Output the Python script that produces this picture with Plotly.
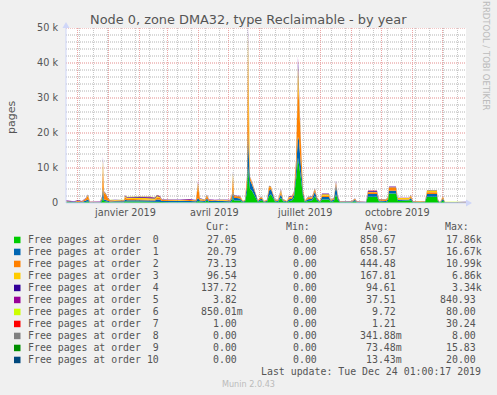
import plotly.graph_objects as go

# ---------------- data ----------------
dates = [
    "2018-11-19", "2018-11-23", "2018-11-27", "2018-12-01", "2018-12-05", "2018-12-09", "2018-12-11", "2018-12-13", "2018-12-18", "2018-12-23",
    "2018-12-25", "2018-12-26", "2018-12-27", "2018-12-29", "2018-12-31", "2019-01-02", "2019-01-07", "2019-01-12", "2019-01-16", "2019-01-17",
    "2019-01-19", "2019-02-01", "2019-02-11", "2019-02-16", "2019-02-18", "2019-02-21", "2019-02-23", "2019-03-03", "2019-03-13", "2019-03-23",
    "2019-03-29", "2019-03-31", "2019-04-02", "2019-04-07", "2019-04-09", "2019-04-11", "2019-04-17", "2019-04-24", "2019-05-02", "2019-05-04",
    "2019-05-05", "2019-05-06", "2019-05-09", "2019-05-12", "2019-05-15", "2019-05-17", "2019-05-19", "2019-05-20", "2019-05-21", "2019-05-22",
    "2019-05-24", "2019-05-26", "2019-05-28", "2019-05-30", "2019-06-01", "2019-06-03", "2019-06-05", "2019-06-08", "2019-06-10", "2019-06-12",
    "2019-06-14", "2019-06-16", "2019-06-19", "2019-06-22", "2019-06-24", "2019-06-28", "2019-06-30", "2019-07-03", "2019-07-05", "2019-07-07",
    "2019-07-08", "2019-07-09", "2019-07-10", "2019-07-11", "2019-07-12", "2019-07-13", "2019-07-14", "2019-07-16", "2019-07-19", "2019-07-23",
    "2019-07-26", "2019-07-28", "2019-07-31", "2019-08-02", "2019-08-09", "2019-08-11", "2019-08-14", "2019-08-16", "2019-08-18", "2019-08-20",
    "2019-08-27", "2019-09-01", "2019-09-04", "2019-09-06", "2019-09-15", "2019-09-17", "2019-09-26", "2019-09-28", "2019-10-05", "2019-10-07",
    "2019-10-08", "2019-10-15", "2019-10-17", "2019-10-28", "2019-10-30", "2019-11-01", "2019-11-08", "2019-11-13", "2019-11-15", "2019-11-25",
    "2019-11-26", "2019-11-28", "2019-12-01", "2019-12-03", "2019-12-13", "2019-12-24",
]

order0 = [200, 150, 100, 200, 150, 300, 500, 100, 80, 100,
          500, 1600, 600, 500, 300, 200, 250, 200, 250, 500,
          400, 400, 400, 350, 500, 500, 300, 250, 300, 300,
          250, 600, 400, 300, 700, 300, 250, 300, 250, 600,
          1700, 700, 800, 700, 200, 300, 3000, 10500, 7000, 4000,
          3500, 2500, 1500, 300, 600, 800, 200, 300, 2000, 2500,
          1500, 400, 300, 1500, 500, 200, 600, 700, 1500, 5500,
          9000, 13000, 11500, 9000, 7000, 5000, 2000, 300, 600, 700,
          2000, 700, 200, 1000, 1000, 300, 600, 2500, 800, 200,
          150, 200, 500, 150, 100, 1800, 1800, 400, 300, 600,
          2700, 2700, 600, 600, 800, 200, 200, 200, 1800, 1800,
          400, 100, 700, 100, 100, 27.05]
order1 = [200, 250, 150, 250, 150, 400, 600, 100, 80, 100,
          500, 2800, 500, 400, 300, 200, 250, 250, 250, 500,
          400, 400, 400, 350, 500, 400, 300, 250, 250, 300,
          250, 800, 300, 250, 600, 300, 250, 250, 250, 600,
          1700, 700, 600, 600, 200, 300, 2000, 10000, 5500, 2500,
          1800, 1500, 800, 200, 500, 400, 200, 300, 1500, 1500,
          800, 300, 300, 1000, 300, 200, 500, 500, 1000, 3000,
          5000, 6000, 6500, 5000, 4000, 2500, 1000, 200, 500, 500,
          1200, 500, 200, 700, 700, 300, 500, 2500, 600, 150,
          150, 150, 400, 150, 100, 800, 800, 300, 300, 400,
          800, 800, 300, 300, 600, 150, 150, 150, 800, 800,
          300, 80, 500, 100, 80, 20.79]
order2 = [100, 100, 80, 150, 100, 500, 900, 100, 60, 80,
          500, 5600, 1800, 1500, 700, 300, 250, 200, 200, 700,
          400, 300, 250, 250, 600, 500, 250, 250, 200, 250,
          200, 3600, 400, 250, 800, 250, 200, 200, 200, 1000,
          4000, 600, 400, 500, 150, 200, 2000, 22500, 5000, 800,
          500, 300, 200, 150, 300, 300, 150, 200, 1000, 500,
          300, 200, 200, 700, 200, 150, 400, 400, 500, 3000,
          9000, 15500, 11500, 8000, 3500, 1500, 600, 150, 400, 400,
          700, 300, 150, 400, 400, 200, 300, 600, 300, 100,
          100, 100, 300, 100, 80, 500, 500, 300, 300, 500,
          900, 900, 200, 200, 500, 100, 150, 100, 500, 500,
          200, 60, 400, 60, 80, 73.13]
order3 = [50, 50, 30, 50, 40, 150, 300, 30, 30, 30,
          200, 2200, 300, 200, 150, 100, 100, 100, 100, 300,
          300, 400, 400, 350, 400, 300, 100, 100, 120, 100,
          80, 800, 150, 100, 200, 100, 100, 150, 100, 300,
          1200, 200, 150, 150, 60, 80, 600, 5500, 1500, 200,
          150, 100, 100, 60, 100, 150, 60, 80, 300, 200,
          100, 80, 80, 500, 100, 60, 200, 200, 200, 500,
          1500, 4500, 2500, 1000, 700, 400, 200, 60, 150, 150,
          200, 100, 60, 400, 400, 80, 100, 300, 100, 50,
          50, 50, 100, 50, 30, 150, 150, 100, 100, 200,
          100, 100, 300, 300, 300, 50, 50, 50, 400, 400,
          100, 30, 200, 30, 30, 96.54]
order4 = [150, 100, 80, 120, 80, 80, 100, 60, 50, 60,
          100, 900, 100, 100, 80, 60, 60, 80, 60, 150,
          150, 200, 250, 200, 200, 150, 80, 80, 80, 100,
          80, 300, 80, 70, 100, 70, 80, 80, 70, 100,
          400, 100, 80, 80, 40, 40, 200, 2200, 600, 100,
          80, 60, 50, 40, 50, 60, 40, 40, 100, 80,
          50, 40, 40, 200, 40, 40, 150, 150, 100, 200,
          500, 2200, 1000, 400, 300, 150, 80, 40, 80, 80,
          100, 50, 40, 150, 150, 50, 50, 300, 80, 30,
          30, 40, 50, 30, 30, 150, 150, 50, 50, 80,
          150, 150, 50, 50, 100, 30, 30, 30, 80, 80,
          50, 20, 60, 20, 20, 137.72]
order5 = [60, 50, 40, 60, 40, 40, 40, 30, 20, 30,
          50, 250, 40, 40, 30, 30, 30, 30, 30, 60,
          80, 100, 120, 100, 100, 80, 40, 40, 40, 50,
          40, 100, 40, 30, 40, 30, 40, 40, 30, 40,
          120, 40, 40, 40, 20, 20, 80, 800, 200, 40,
          30, 30, 20, 20, 20, 30, 20, 20, 40, 30,
          20, 20, 20, 100, 20, 20, 60, 80, 50, 60,
          150, 700, 300, 100, 80, 40, 30, 20, 30, 30,
          40, 20, 20, 60, 60, 20, 20, 150, 30, 20,
          20, 20, 20, 20, 20, 100, 100, 20, 20, 30,
          50, 50, 20, 20, 40, 20, 20, 20, 40, 40,
          20, 10, 20, 10, 10, 3.82]
order6 = [5, 5, 5, 5, 5, 5, 5, 5, 5, 5,
          5, 20, 5, 5, 5, 5, 5, 5, 5, 10,
          30, 30, 30, 30, 30, 30, 5, 5, 5, 5,
          5, 10, 5, 5, 5, 5, 5, 5, 5, 5,
          10, 5, 5, 5, 5, 5, 10, 60, 10, 5,
          5, 5, 5, 5, 5, 5, 5, 5, 10, 5,
          5, 5, 5, 10, 5, 5, 5, 5, 5, 10,
          20, 60, 30, 10, 5, 5, 5, 5, 5, 5,
          5, 5, 5, 20, 20, 5, 5, 10, 5, 5,
          5, 5, 5, 5, 5, 20, 20, 5, 5, 5,
          20, 20, 10, 10, 10, 5, 5, 5, 80, 80,
          10, 5, 10, 5, 5, 0.85]
order7 = [1, 1, 1, 1, 1, 1, 1, 1, 1, 1,
          1, 5, 1, 1, 1, 1, 1, 1, 1, 1,
          10, 10, 10, 10, 10, 10, 1, 1, 1, 1,
          1, 2, 1, 1, 1, 1, 1, 1, 1, 1,
          2, 1, 1, 1, 1, 1, 2, 20, 2, 1,
          1, 1, 1, 1, 1, 1, 1, 1, 1, 1,
          1, 1, 1, 2, 1, 1, 1, 1, 1, 2,
          5, 10, 5, 2, 1, 1, 1, 1, 1, 1,
          1, 1, 1, 1, 1, 1, 1, 2, 1, 1,
          1, 1, 1, 1, 1, 30, 30, 1, 1, 1,
          2, 2, 1, 1, 1, 1, 1, 1, 2, 2,
          1, 1, 10, 1, 10, 1]
order8 = [0, 0, 0, 0, 0, 0, 0, 0, 0, 0,
          0, 2, 0, 0, 0, 0, 0, 0, 0, 0,
          0, 0, 0, 0, 0, 0, 0, 0, 0, 0,
          0, 1, 0, 0, 0, 0, 0, 0, 0, 0,
          1, 0, 0, 0, 0, 0, 1, 8, 1, 0,
          0, 0, 0, 0, 0, 0, 0, 0, 0, 0,
          0, 0, 0, 0, 0, 0, 0, 0, 0, 1,
          2, 5, 2, 1, 0, 0, 0, 0, 0, 0,
          0, 0, 0, 0, 0, 0, 0, 0, 0, 0,
          0, 0, 0, 0, 0, 0, 0, 0, 0, 0,
          0, 0, 0, 0, 0, 0, 0, 0, 0, 0,
          0, 0, 0, 0, 0, 0]
order9 = [0, 0, 0, 0, 0, 0, 0, 0, 0, 0,
          0, 1, 0, 0, 0, 0, 0, 0, 0, 0,
          0, 0, 0, 0, 0, 0, 0, 0, 0, 0,
          0, 0, 0, 0, 0, 0, 0, 0, 0, 0,
          0, 0, 0, 0, 0, 0, 1, 15, 1, 0,
          0, 0, 0, 0, 0, 0, 0, 0, 0, 0,
          0, 0, 0, 0, 0, 0, 0, 0, 0, 0,
          1, 5, 1, 0, 0, 0, 0, 0, 0, 0,
          0, 0, 0, 0, 0, 0, 0, 0, 0, 0,
          0, 0, 0, 0, 0, 0, 0, 0, 0, 0,
          0, 0, 0, 0, 0, 0, 0, 0, 0, 0,
          0, 0, 0, 0, 0, 0]
order10 = [0, 0, 0, 0, 0, 0, 0, 0, 0, 0,
           0, 0, 0, 0, 0, 0, 0, 0, 0, 0,
           0, 0, 0, 0, 0, 0, 0, 0, 0, 0,
           0, 0, 0, 0, 0, 0, 0, 0, 0, 0,
           0, 0, 0, 0, 0, 0, 1, 20, 1, 0,
           0, 0, 0, 0, 0, 0, 0, 0, 0, 0,
           0, 0, 0, 0, 0, 0, 0, 0, 0, 0,
           1, 10, 1, 0, 0, 0, 0, 0, 0, 0,
           0, 0, 0, 0, 0, 0, 0, 0, 0, 0,
           0, 0, 0, 0, 0, 0, 0, 0, 0, 0,
           0, 0, 0, 0, 0, 0, 0, 0, 0, 0,
           0, 0, 0, 0, 0, 0]

series_names = ["Free pages at order  0", "Free pages at order  1", "Free pages at order  2",
                "Free pages at order  3", "Free pages at order  4", "Free pages at order  5",
                "Free pages at order  6", "Free pages at order  7", "Free pages at order  8",
                "Free pages at order  9", "Free pages at order 10"]
colors = ["#00CC00", "#0066B3", "#FF8000", "#FFCC00", "#330099", "#990099",
          "#CCFF00", "#FF0000", "#808080", "#008F00", "#00487D"]

cur_vals = ["27.05", "20.79", "73.13", "96.54", "137.72", "3.82", "850.01m", "1.00", "0.00", "0.00", "0.00"]
min_vals = ["0.00", "0.00", "0.00", "0.00", "0.00", "0.00", "0.00", "0.00", "0.00", "0.00", "0.00"]
avg_vals = ["850.67", "658.57", "444.48", "167.81", "94.61", "37.51", "9.72", "1.21", "341.88m", "73.48m", "13.43m"]
max_vals = ["17.86k", "16.67k", "10.99k", "6.86k", "3.34k", "840.93", "80.00", "30.24", "8.00", "15.83", "20.00"]

y_tickvals = [0, 10000, 20000, 30000, 40000, 50000]
y_ticktext = ["0", "10 k", "20 k", "30 k", "40 k", "50 k"]
y_minor_step = 2000
x_label_dates = ["2019-01-16 18:00", "2019-04-16 12:00", "2019-07-16 00:00", "2019-10-16 12:00"]
x_label_text = ["janvier 2019", "avril 2019", "juillet 2019", "octobre 2019"]

title_text = "Node 0, zone DMA32, type Reclaimable - by year"
last_update = "Last update: Tue Dec 24 01:00:17 2019"

# ---------------- geometry helpers (pixel -> paper) ----------------
W, H = 497, 395
PL, PR, PT, PB = 66, 466, 28, 203


def px(x):
    return (x - PL) / (PR - PL)


def py(y):
    return (PB - y) / (PB - PT)


NB = "\u00a0"
FONT = "DejaVu Sans"
MONO = "DejaVu Sans Mono"
TXT = "#555555"

fig = go.Figure()
all_series = [order0, order1, order2, order3, order4, order5, order6, order7, order8, order9, order10]
for name, col, vals in zip(series_names, colors, all_series):
    fig.add_trace(go.Scatter(
        x=dates, y=vals, name=name, mode="lines", stackgroup="one",
        line=dict(width=0, color=col), fillcolor=col, showlegend=False,
    ))

# invisible helper trace so the overlaid 14-day grid axis (x2) is drawn
fig.add_trace(go.Scatter(x=[dates[0]], y=[0], xaxis="x2", yaxis="y", mode="markers",
                         marker=dict(opacity=0), hoverinfo="skip", showlegend=False))

annotations = []
shapes = []

MAJ = "#EBA5A5"
MIN = "#C8C8C8"
DASH = "1px,1px"

# horizontal grid (drawn through the y scale, beneath the areas)
ymax = y_tickvals[-1]
for v in range(y_minor_step, ymax, y_minor_step):
    if v % 10000:
        shapes.append(dict(type="line", xref="paper", yref="y", x0=0, x1=1, y0=v, y1=v,
                           layer="below", line=dict(color="#B4B4B4", width=1, dash=DASH)))
for v in y_tickvals[1:]:
    shapes.append(dict(type="line", xref="paper", yref="y", x0=0, x1=1, y0=v, y1=v,
                       layer="below", line=dict(color="#E48C8C", width=1, dash=DASH)))

annotations.append(dict(text=title_text, x=px(248.5), y=py(20), xref="paper", yref="paper",
                         showarrow=False, xanchor="center", yanchor="middle",
                         font=dict(family=FONT, size=12.9, color=TXT)))
annotations.append(dict(text="pages", x=px(12), y=py(118), xref="paper", yref="paper",
                         showarrow=False, textangle=-90, xanchor="center", yanchor="middle",
                         font=dict(family=FONT, size=11, color=TXT)))
annotations.append(dict(text="RRDTOOL / TOBI OETIKER", x=px(486), y=py(56), xref="paper", yref="paper",
                         showarrow=False, textangle=90, xanchor="center", yanchor="middle",
                         font=dict(family=FONT, size=8.5, color="#BBBBBB")))
for d, t in zip(x_label_dates, x_label_text):
    annotations.append(dict(text=t, x=d, y=py(212), xref="x", yref="paper", showarrow=False,
                             xanchor="center", yanchor="middle",
                             font=dict(family=FONT, size=9.7, color=TXT)))

for t, xr in zip(["Cur:", "Min:", "Avg:", "Max:"], [231, 311, 390, 470]):
    annotations.append(dict(text=t, x=px(xr + 1), y=py(226.7), xref="paper", yref="paper",
                             showarrow=False, xanchor="right", yanchor="middle",
                             font=dict(family=MONO, size=9.9, color=TXT)))

col_right = [237.7, 317.7, 396.7, 476.7]
for i in range(len(series_names)):
    ry = 239.7 + 12 * i
    shapes.append(dict(type="rect", xref="paper", yref="paper",
                       x0=px(14), x1=px(20.5), y0=py(ry - 3), y1=py(ry + 3.5),
                       fillcolor=colors[i], line=dict(width=0)))
    annotations.append(dict(text=series_names[i].replace(" ", NB), x=px(26), y=py(ry),
                             xref="paper", yref="paper", showarrow=False,
                             xanchor="left", yanchor="middle",
                             font=dict(family=MONO, size=9.9, color=TXT)))
    for vals, xr in zip([cur_vals, min_vals, avg_vals, max_vals], col_right):
        v = vals[i]
        extra = 6 if v[-1] in "mk" else 0
        annotations.append(dict(text=v, x=px(xr + extra + 1), y=py(ry), xref="paper", yref="paper",
                                 showarrow=False, xanchor="right", yanchor="middle",
                                 font=dict(family=MONO, size=9.9, color=TXT)))

annotations.append(dict(text=last_update.replace(" ", NB), x=px(483.3), y=py(371), xref="paper", yref="paper",
                         showarrow=False, xanchor="right", yanchor="middle",
                         font=dict(family=MONO, size=9.9, color=TXT)))
annotations.append(dict(text="Munin 2.0.43", x=px(248.5), y=py(384), xref="paper", yref="paper",
                         showarrow=False, xanchor="center", yanchor="middle",
                         font=dict(family=FONT, size=8.1, color="#BBBBBB")))

AX = "#CFD6F8"
shapes.append(dict(type="line", xref="paper", yref="paper", x0=px(66), x1=px(467), y0=py(203), y1=py(203),
                   line=dict(color=AX, width=1)))
shapes.append(dict(type="path", xref="paper", yref="paper",
                   path=f"M {px(466)} {py(199.5)} L {px(472)} {py(203)} L {px(466)} {py(206.5)} Z",
                   fillcolor=AX, line=dict(width=0)))
shapes.append(dict(type="line", xref="paper", yref="paper", x0=px(66), x1=px(66), y0=py(203), y1=py(27),
                   line=dict(color=AX, width=1)))
shapes.append(dict(type="path", xref="paper", yref="paper",
                   path=f"M {px(62.5)} {py(28)} L {px(66)} {py(22)} L {px(69.5)} {py(28)} Z",
                   fillcolor=AX, line=dict(width=0)))

XRANGE = ["2018-11-19 01:00", "2019-12-24 01:00"]
YRANGE = [0, 50000]

fig.update_layout(
    width=W, height=H,
    margin=dict(l=PL, r=W - PR, t=PT, b=H - PB, pad=0),
    paper_bgcolor="#F0F0F0", plot_bgcolor="#FFFFFF",
    showlegend=False,
    annotations=annotations, shapes=shapes,
    xaxis=dict(
        type="date", range=XRANGE,
        tick0="2018-12-01", dtick="M1", showticklabels=False, ticks="",
        showgrid=True, gridcolor=MAJ, griddash=DASH, gridwidth=1,
        zeroline=False, showline=False, fixedrange=True,
    ),
    xaxis2=dict(
        type="date", range=XRANGE, overlaying="x", anchor="y", side="bottom",
        tick0="2018-12-17", dtick=14 * 86400000, showticklabels=False, ticks="",
        showgrid=True, gridcolor=MIN, griddash=DASH, gridwidth=1,
        zeroline=False, showline=False, fixedrange=True,
    ),
    yaxis=dict(
        range=YRANGE, tickmode="array", tickvals=y_tickvals, ticktext=y_ticktext,
        ticks="outside", ticklen=5, tickcolor="rgba(0,0,0,0)",
        tickfont=dict(family=FONT, size=9.7, color=TXT),
        showgrid=False, zeroline=False, showline=False, fixedrange=True,
    ),
)

fig.write_html("out.html")
